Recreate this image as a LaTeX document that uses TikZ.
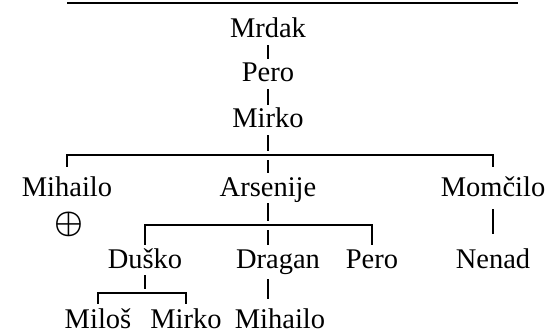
\documentclass[tikz,border=0pt]{standalone}
\usepackage{amsmath}
\usepackage{fontspec}
\setmainfont{Liberation Serif}

\begin{document}
\begin{tikzpicture}[x=1pt, y=-1pt, line width=2.5pt,
    person/.style={anchor=base, inner sep=0pt, text height=22pt, text depth=6pt,
        font=\fontsize{28.5}{34}\selectfont},
    lastrow/.style={person, text depth=2pt},
    bar/.style={preaction={draw=white, line width=9pt}}]
    \useasboundingbox (0,0) rectangle (548,334);

    % Rule on top
    \draw[line width=1.2pt] (67,3) -- (518,3);

    % Names, row by row
    \node[person] (mrdak) at (268,38) {Mrdak};
    \node[person] (pero) at (268,82) {Pero};
    \node[person] (mirko) at (268,128) {Mirko};
    \node[person] (mihailo) at (67,196) {Mihailo};
    \node[person] (arsenije) at (268,196) {Arsenije};
    \node[person] (momcilo) at (493,196) {Momčilo};
    \node[inner sep=0pt, font=\fontsize{24.88}{30}\selectfont] (plus) at (69,224)
        {\scalebox{1.3}{$\boldsymbol{\oplus}$}};
    \node[person] (dusko) at (145,268) {Duško};
    \node[person] (dragan) at (278,268) {Dragan};
    \node[person] (perotwo) at (372,268) {Pero};
    \node[person] (nenad) at (493,268) {Nenad};
    \node[lastrow] (milos) at (98,328) {Miloš};
    \node[lastrow] (mirkotwo) at (186,328) {Mirko};
    \node[lastrow] (mihailotwo) at (280,328) {Mihailo};

    % Levels of the bars
    \coordinate (barA) at (268,155);
    \coordinate (barB) at (268,225);
    \coordinate (barC) at (145,293);

    % Straight lines
    \draw (mrdak) -- (pero);
    \draw (pero) -- (mirko);
    \draw (mirko) -- (arsenije);
    \draw (arsenije) -- (arsenije |- dragan.north);
    \draw[shorten <=4pt, shorten >=6pt] (arsenije |- dragan.south) -- (arsenije |- mihailotwo.north);
    \draw[shorten <=6pt, shorten >=11pt] (momcilo) -- (nenad);
    \draw (dusko) -- (dusko |- barC);

    % Bars
    \draw[bar] ([yshift=6pt]mihailo.north) |- (barA) -| ([yshift=6pt]momcilo.north);
    \draw[bar] (dusko.north) |- (barB) -| (perotwo.north);
    \draw[bar] ([yshift=1pt]milos.north) |- (barC) -| ([yshift=1pt]mirkotwo.north);
\end{tikzpicture}
\end{document}
